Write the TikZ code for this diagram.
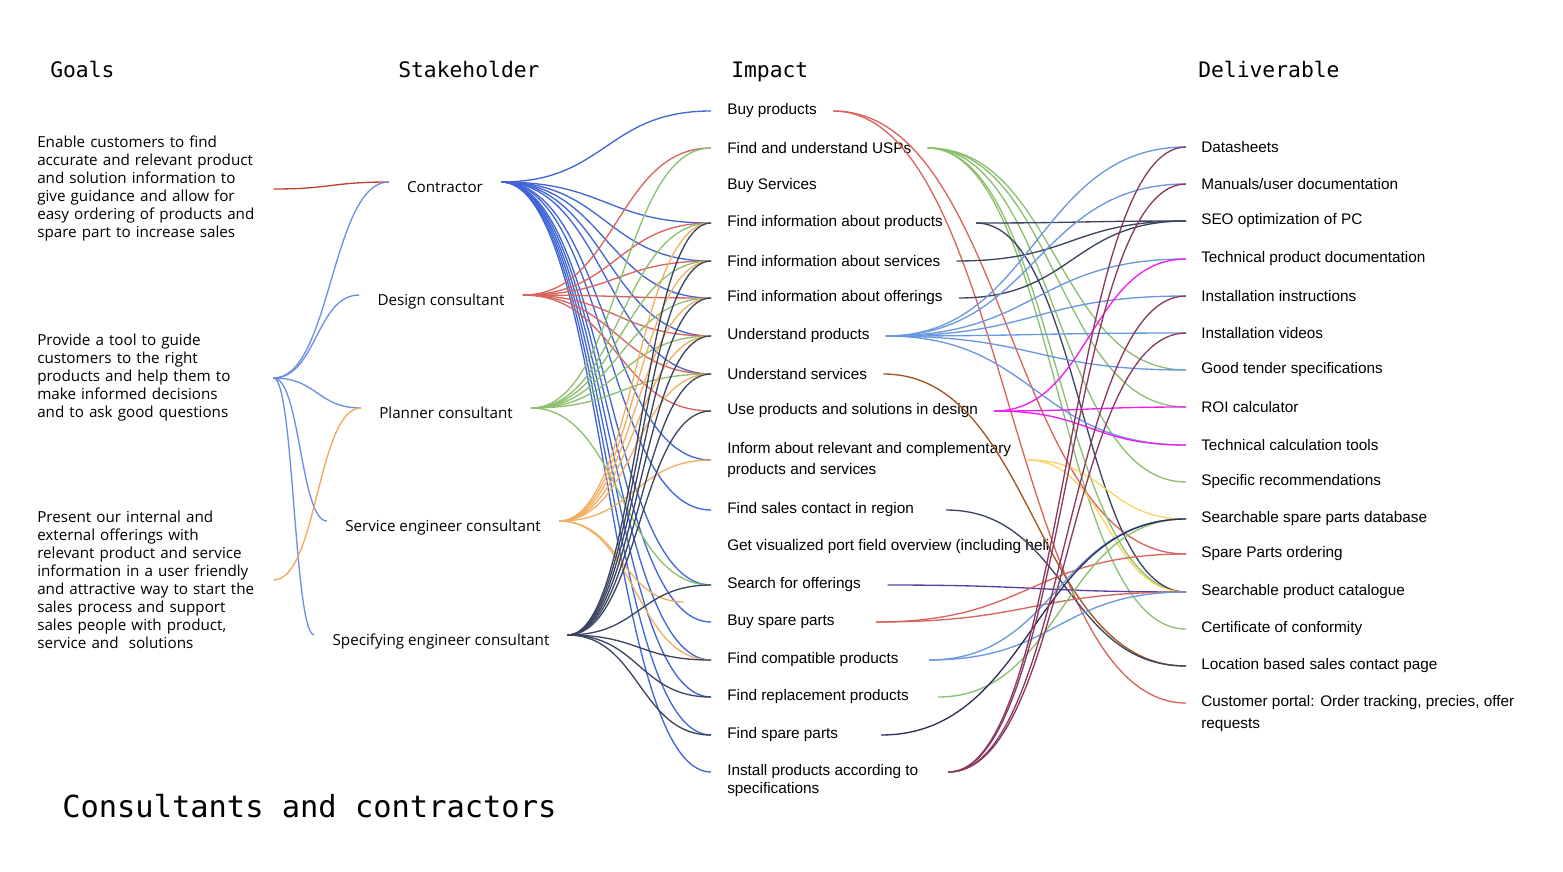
\documentclass[tikz,border=0pt]{standalone}
\usepackage{fontspec}
\setmainfont{Liberation Sans}
\newfontfamily\opensans{Open Sans}
\newfontfamily\monofont{DejaVu Sans Mono}
\usepackage{tikz}
\usetikzlibrary{calc}
\definecolor{goalred}{HTML}{C0432B}
\definecolor{goalblue}{HTML}{6D8FE3}
\definecolor{goalorange}{HTML}{F0A95B}
\definecolor{contrblue}{HTML}{4066D6}
\definecolor{designred}{HTML}{D9645E}
\definecolor{plangreen}{HTML}{8CBF6E}
\definecolor{serviceorange}{HTML}{F2AE62}
\definecolor{specnavy}{HTML}{3B4560}
\definecolor{prodblue}{HTML}{6A98E0}
\definecolor{servbrown}{HTML}{A0541E}
\definecolor{designmag}{HTML}{F21CF2}
\definecolor{informyellow}{HTML}{F9D462}
\definecolor{offerpurple}{HTML}{5A3FA0}
\definecolor{installmaroon}{HTML}{8A3A62}
\definecolor{sparenavy}{HTML}{2C2F5A}
\tikzstyle{head} = [anchor=base west,inner sep=0,font=\monofont\fontsize{16}{19}\selectfont]
\tikzstyle{title} = [anchor=base west,inner sep=0,font=\monofont\fontsize{22.8}{26}\selectfont]
\tikzstyle{goal} = [anchor=west,inner sep=0,text width=177pt,align=left,font=\opensans\fontsize{11.4}{13.5}\selectfont]
\tikzstyle{stake} = [inner xsep=13.5pt,inner ysep=0pt,text height=18.2pt,text depth=3pt,font=\opensans\fontsize{11.4}{13.5}\selectfont]
\tikzstyle{impact} = [anchor=west,inner xsep=12pt,inner ysep=0pt,align=left,font=\fontsize{11.5}{15.75}\selectfont]
\tikzstyle{deliv} = [anchor=west,inner xsep=11.25pt,inner ysep=0pt,align=left,font=\fontsize{11.5}{16.5}\selectfont]
\tikzstyle{link} = [line width=1pt,to path={let \p1=(\tikztostart),\p2=(\tikztotarget) in .. controls ({(\x1+\x2)/2},\y1) and ({(\x1+\x2)/2},\y2) .. (\tikztotarget)}]

\begin{document}
\begin{tikzpicture}[x=0.75pt,y=-0.75pt]
\useasboundingbox (0,0) rectangle (1563,871);
\node (hgoal) [head] at (50,77) {Goals};
\node (hstake) [head] at (398,77) {Stakeholder};
\node (himpact) [head] at (731,77) {Impact};
\node (hdeliv) [head] at (1198,77) {Deliverable};
\node (ttl) [title] at (62,817) {Consultants and contractors};

\node (g1) [goal] at (37,189) {Enable customers to find\\accurate and relevant product\\and solution information to\\give guidance and allow for\\easy ordering of products and\\spare part to increase sales};
\node (g2) [goal] at (37,378) {Provide a tool to guide\\customers to the right\\products and help them to\\make informed decisions\\and to ask good questions};
\node (g3) [goal] at (37,580) {Present our internal and\\external offerings with\\relevant product and service\\information in a user friendly\\and attractive way to start the\\sales process and support\\sales people with product,\\service and\ \ solutions};

\node (s1) [stake] at (445,182) {Contractor};
\node (s2) [stake] at (441,295) {Design consultant};
\node (s3) [stake] at (446,408) {Planner consultant};
\node (s4) [stake] at (443,521) {Service engineer consultant};
\node (s5) [stake] at (441,635) {Specifying engineer consultant};

\node (i1) [impact] at (711,111) {Buy products};
\node (i2) [impact] at (711,148) {Find and understand USPs};
\node (i3) [impact] at (711,186) {Buy Services};
\node (i4) [impact] at (711,223) {Find information about products};
\node (i5) [impact] at (711,261) {Find information about services};
\node (i6) [impact] at (711,298) {Find information about offerings};
\node (i7) [impact] at (711,336) {Understand products};
\node (i8) [impact] at (711,374) {Understand services};
\node (i9) [impact] at (711,411) {Use products and solutions in design};
\node (i10) [impact] at (711,460) {Inform about relevant and complementary\\products and services};
\node (i11) [impact] at (711,510) {Find sales contact in region};
\node (i12) [impact] at (711,547) {Get visualized port field overview (including heli};
\node (i13) [impact] at (711,585) {Search for offerings};
\node (i14) [impact] at (711,622) {Buy spare parts};
\node (i15) [impact] at (711,660) {Find compatible products};
\node (i16) [impact] at (711,697) {Find replacement products};
\node (i17) [impact] at (711,735) {Find spare parts};
\node (i18) [impact,font=\fontsize{11.5}{13.5}\selectfont] at (711,781) {Install products according to\\specifications};

\node (d1) [deliv] at (1186,147) {Datasheets};
\node (d2) [deliv] at (1186,184) {Manuals/user documentation};
\node (d3) [deliv] at (1186,221) {SEO optimization of PC};
\node (d4) [deliv] at (1186,259) {Technical product documentation};
\node (d5) [deliv] at (1186,296) {Installation instructions};
\node (d6) [deliv] at (1186,333) {Installation videos};
\node (d7) [deliv] at (1186,370) {Good tender specifications};
\node (d8) [deliv] at (1186,407) {ROI calculator};
\node (d9) [deliv] at (1186,445) {Technical calculation tools};
\node (d10) [deliv] at (1186,482) {Specific recommendations};
\node (d11) [deliv] at (1186,519) {Searchable spare parts database};
\node (d12) [deliv] at (1186,554) {Spare Parts ordering};
\node (d13) [deliv] at (1186,592) {Searchable product catalogue};
\node (d14) [deliv] at (1186,629) {Certificate of conformity};
\node (d15) [deliv] at (1186,666) {Location based sales contact page};
\node (d16) [deliv] at (1186,714) {Customer portal: Order tracking, precies, offer\\requests};

\coordinate (stub) at (684,602);

% goals -> stakeholders
\draw [link,goalred] (g1.east) to (s1.west);
\draw [link,goalblue] (g2.east) to (s1.west);
\draw [link,goalblue] (g2.east) to (s2.west);
\draw [link,goalblue] (g2.east) to (s3.west);
\draw [link,goalblue] (g2.east) to (s4.west);
\draw [link,goalblue] (g2.east) to (s5.west);
\draw [link,goalorange] (g3.east) to (s3.west);

% stakeholders -> impacts
\draw [link,contrblue] (s1.east) to (i1.west);
\draw [link,contrblue] (s1.east) to (i4.west);
\draw [link,contrblue] (s1.east) to (i5.west);
\draw [link,contrblue] (s1.east) to (i6.west);
\draw [link,contrblue] (s1.east) to (i7.west);
\draw [link,contrblue] (s1.east) to (i8.west);
\draw [link,contrblue] (s1.east) to (i10.west);
\draw [link,contrblue] (s1.east) to (i11.west);
\draw [link,contrblue] (s1.east) to (i13.west);
\draw [link,contrblue] (s1.east) to (i14.west);
\draw [link,contrblue] (s1.east) to (i15.west);
\draw [link,contrblue] (s1.east) to (i16.west);
\draw [link,contrblue] (s1.east) to (i17.west);
\draw [link,contrblue] (s1.east) to ([yshift=6.75pt]i18.west);

\draw [link,designred] (s2.east) to (i2.west);
\draw [link,designred] (s2.east) to (i4.west);
\draw [link,designred] (s2.east) to (i5.west);
\draw [link,designred] (s2.east) to (i6.west);
\draw [link,designred] (s2.east) to (i7.west);
\draw [link,designred] (s2.east) to (i8.west);
\draw [link,designred] (s2.east) to (i9.west);

\draw [link,plangreen] (s3.east) to (i2.west);
\draw [link,plangreen] (s3.east) to (i4.west);
\draw [link,plangreen] (s3.east) to (i5.west);
\draw [link,plangreen] (s3.east) to (i6.west);
\draw [link,plangreen] (s3.east) to (i7.west);
\draw [link,plangreen] (s3.east) to (i8.west);
\draw [link,plangreen] (s3.east) to (i13.west);

\draw [link,serviceorange] (s4.east) to (i4.west);
\draw [link,serviceorange] (s4.east) to (i5.west);
\draw [link,serviceorange] (s4.east) to (i6.west);
\draw [link,serviceorange] (s4.east) to (i7.west);
\draw [link,serviceorange] (s4.east) to (i8.west);
\draw [link,serviceorange] (s4.east) to (i10.west);
\draw [link,serviceorange] (s4.east) to (stub);
\draw [link,serviceorange] (s4.east) to (i15.west);

\draw [link,specnavy] (s5.east) to (i4.west);
\draw [link,specnavy] (s5.east) to (i5.west);
\draw [link,specnavy] (s5.east) to (i6.west);
\draw [link,specnavy] (s5.east) to (i7.west);
\draw [link,specnavy] (s5.east) to (i8.west);
\draw [link,specnavy] (s5.east) to (i9.west);
\draw [link,specnavy] (s5.east) to (i13.west);
\draw [link,specnavy] (s5.east) to (i15.west);
\draw [link,specnavy] (s5.east) to (i16.west);
\draw [link,specnavy] (s5.east) to (i17.west);

% impacts -> deliverables
\draw [link,designred] (i1.east) to (d12.west);
\draw [link,designred] (i1.east) to ([yshift=8.25pt]d16.west);
\draw [link,plangreen] (i2.east) to (d7.west);
\draw [link,plangreen] (i2.east) to (d8.west);
\draw [link,plangreen] (i2.east) to (d10.west);
\draw [link,plangreen] (i2.east) to (d13.west);
\draw [link,plangreen] (i2.east) to (d14.west);
\draw [link,specnavy] ([xshift=12.75pt]i4.east) to (d3.west);
\draw [link,specnavy] ([xshift=12.75pt]i4.east) to (d13.west);
\draw [link,specnavy] (i5.east) to (d3.west);
\draw [link,specnavy] (i6.east) to (d3.west);
\draw [link,prodblue] (i7.east) to (d1.west);
\draw [link,prodblue] (i7.east) to (d2.west);
\draw [link,prodblue] (i7.east) to (d4.west);
\draw [link,prodblue] (i7.east) to (d5.west);
\draw [link,prodblue] (i7.east) to (d6.west);
\draw [link,prodblue] (i7.east) to (d7.west);
\draw [link,prodblue] (i7.east) to (d9.west);
\draw [link,servbrown] (i8.east) to (d15.west);
\draw [link,designmag] (i9.east) to (d4.west);
\draw [link,designmag] (i9.east) to (d8.west);
\draw [link,designmag] (i9.east) to (d9.west);
\draw [link,informyellow] (i10.east) to (d11.west);
\draw [link,informyellow] (i10.east) to (d13.west);
\draw [link,specnavy] ([xshift=12pt]i11.east) to (d15.west);
\draw [link,offerpurple] ([xshift=8pt]i13.east) to (d13.west);
\draw [link,designred] ([xshift=18.75pt]i14.east) to (d12.west);
\draw [link,designred] ([xshift=18.75pt]i14.east) to (d13.west);
\draw [link,prodblue] ([xshift=10.5pt]i15.east) to (d11.west);
\draw [link,prodblue] ([xshift=10.5pt]i15.east) to (d13.west);
\draw [link,plangreen] ([xshift=9.75pt]i16.east) to (d11.west);
\draw [link,sparenavy] ([xshift=20pt]i17.east) to (d11.west);
\draw [link,installmaroon] ([xshift=10.5pt,yshift=6.75pt]i18.east) to (d1.west);
\draw [link,installmaroon] ([xshift=10.5pt,yshift=6.75pt]i18.east) to (d2.west);
\draw [link,installmaroon] ([xshift=10.5pt,yshift=6.75pt]i18.east) to (d5.west);
\draw [link,installmaroon] ([xshift=10.5pt,yshift=6.75pt]i18.east) to (d6.west);
\end{tikzpicture}
\end{document}
